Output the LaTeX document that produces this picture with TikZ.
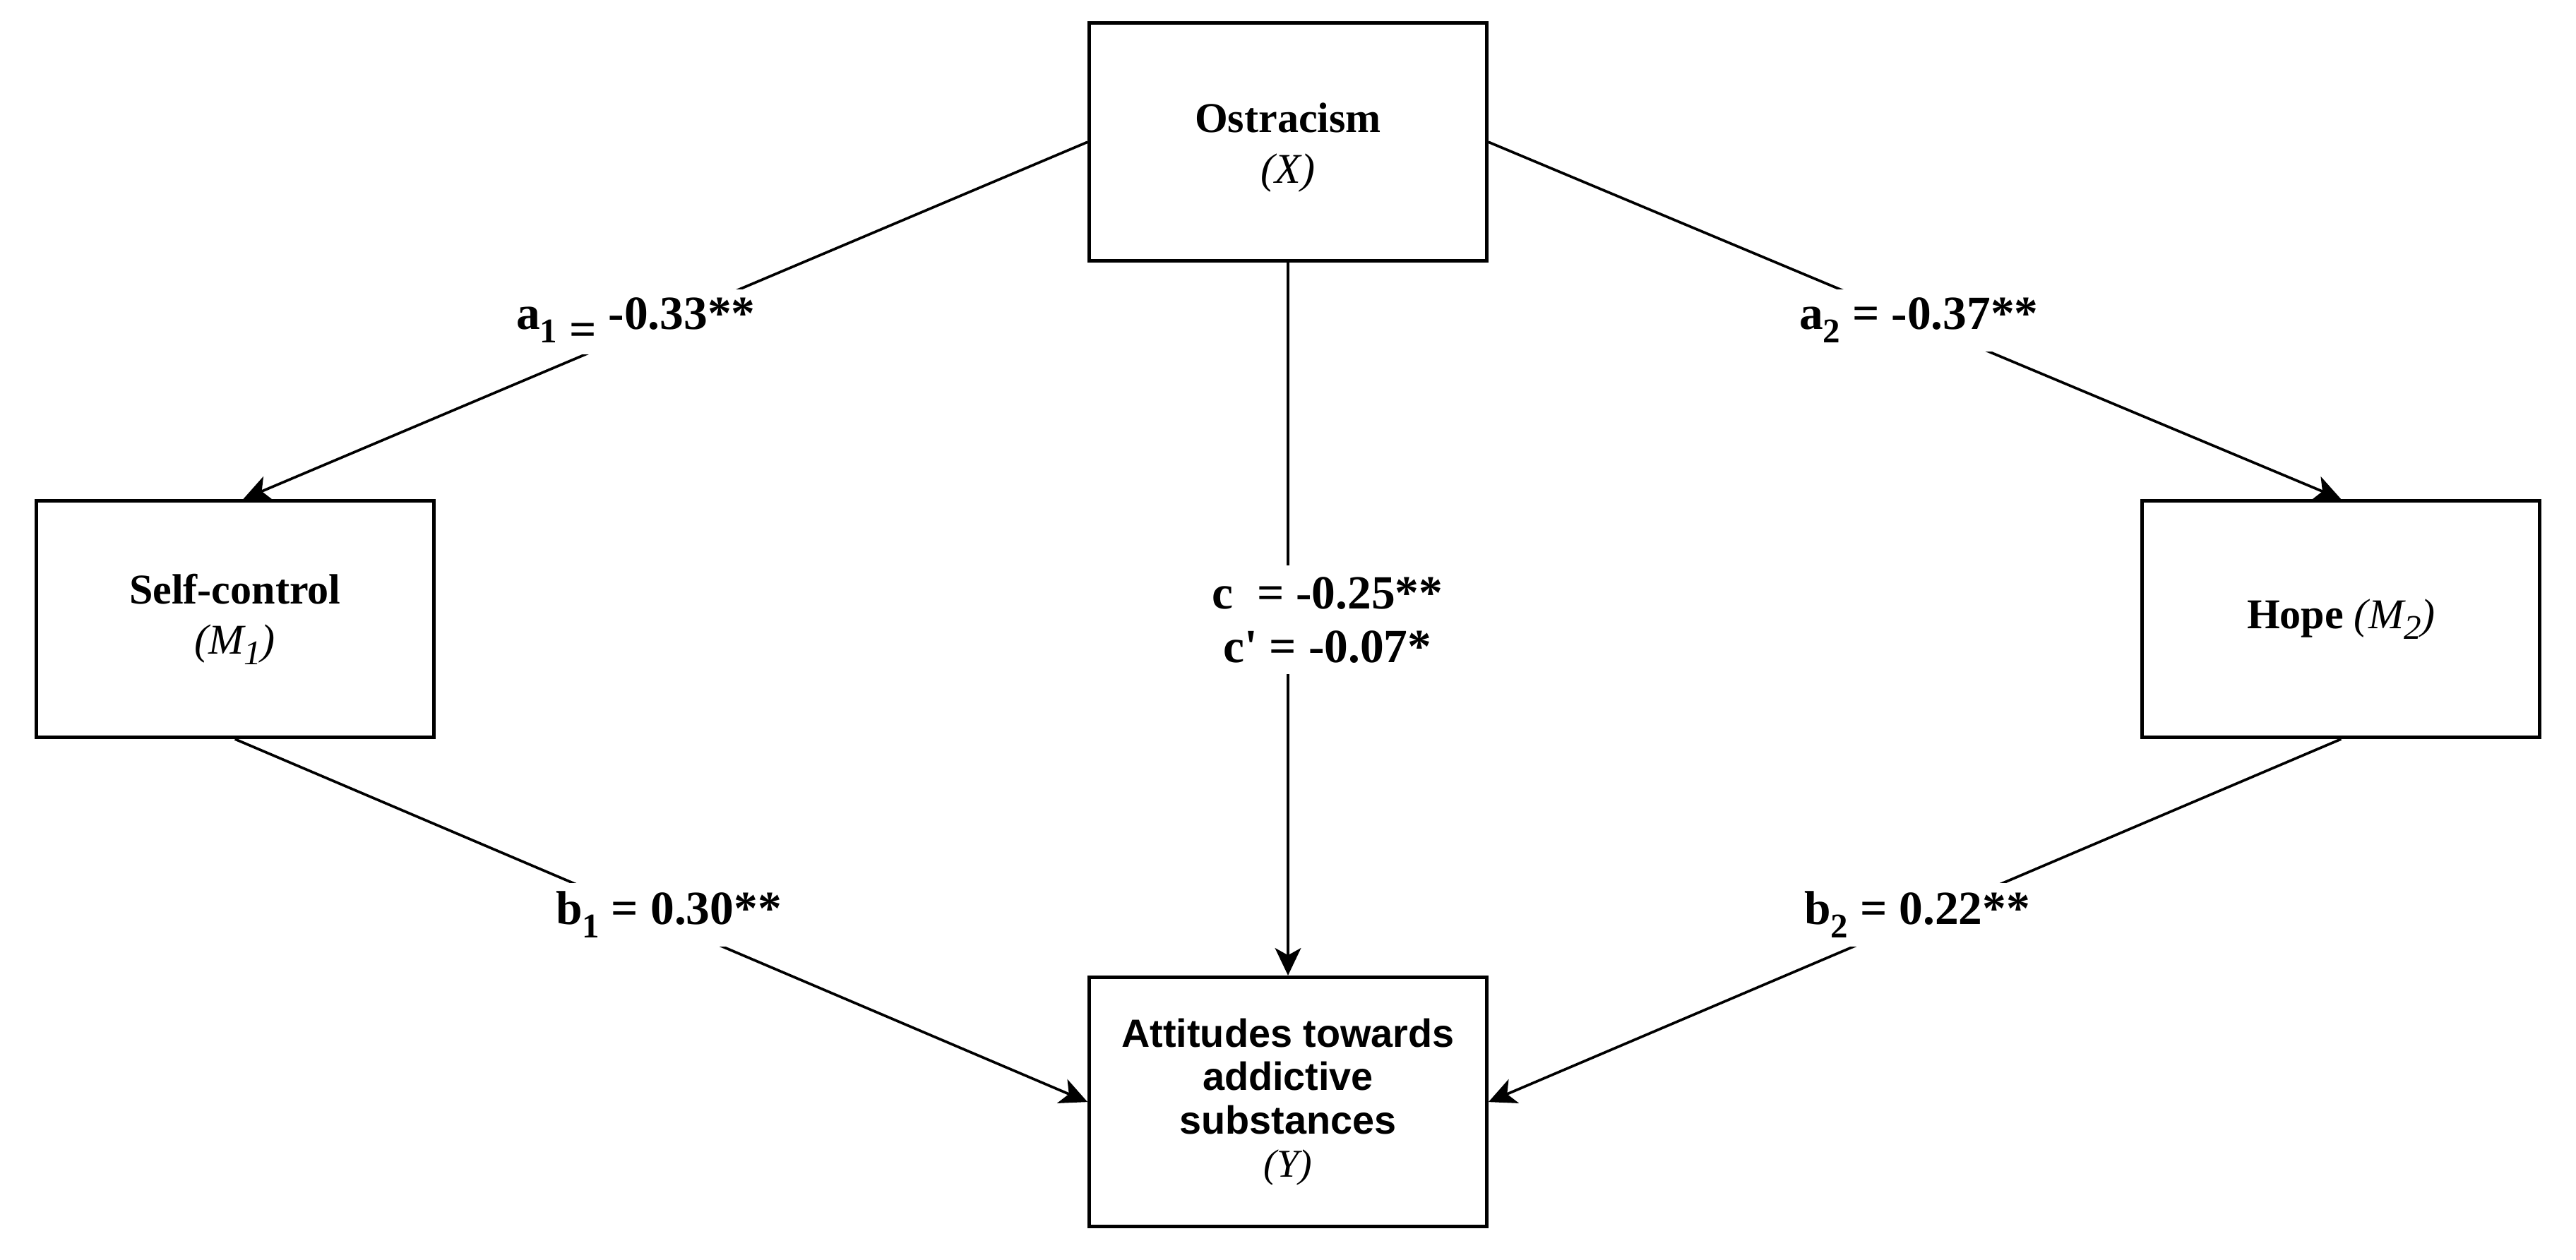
\documentclass[tikz,border=0pt]{standalone}
\usepackage{fontspec}
\setmainfont{Liberation Serif}
\newfontfamily\arialf{Liberation Sans}
\newfontfamily\tnrplain{Liberation Serif}[Ligatures=TeXOff]
\usetikzlibrary{arrows.meta,calc}
\newcommand\lsub[2][-4.5pt]{\raisebox{#1}{\fontsize{12}{12}\selectfont #2}}
\newcommand\isub[1]{\raisebox{-3.5pt}{\fontsize{12}{12}\selectfont #1}}
\begin{document}
\begin{tikzpicture}[x=0.02cm,y=-0.02cm,
  box/.style={draw=black, line width=1.2pt, minimum width=4.84cm, minimum height=2.9cm, inner sep=0pt, align=center, font=\fontsize{14.7}{17.5}\selectfont\bfseries},
  conn/.style={line width=0.9pt, -{Stealth[length=9.5pt,width=9pt,inset=2.5pt]}},
  lbl/.style={fill=white, inner sep=3pt, font=\fontsize{16.5}{18.5}\selectfont\bfseries, align=center}]
\useasboundingbox (0,0) rectangle (1568,767);
\fill[white] (0,0) rectangle (1568,767);

\node[box] (X) at (784,86.5) {\rule{0pt}{14pt}Ostracism\\{\mdseries\itshape (X)}};
\node[box, minimum height=2.88cm] (M1) at (143,377) {Self-control\\{\mdseries\itshape (M\isub{1})}};
\node[box, minimum height=2.88cm] (M2) at (1425,377) {Hope {\mdseries\itshape (M\isub{2})}};
\node[box, minimum height=3.04cm, font=\fontsize{13.65}{15}\selectfont\arialf\bfseries] (Y) at (784,671) {Attitudes towards\\addictive\\substances\\{\rmfamily\mdseries\itshape (Y)}};

\draw[conn] (X.west) -- ([xshift=0.1cm]M1.north);
\draw[conn] (X.east) -- (M2.north);
\draw[conn] (X.south) -- (Y.north);
\draw[conn] (M1.south) -- (Y.west);
\draw[conn] (M2.south) -- (Y.east);

\node[lbl, anchor=base] (la1) at (387,200.7) {a\lsub{1} \raisebox{-5.5pt}{=} -0.33**};
\node[lbl, anchor=base] (la2) at (1168,200.7) {a\lsub{2} = -0.37**};
\node[lbl, anchor=base] (lb1) at (407,563) {b\lsub{1} = 0.30**};
\node[lbl, anchor=base] (lb2) at (1167,563) {b\lsub{2} = 0.22**};
\node[lbl, inner sep=4pt] (lc) at (808,377.5) {c\ \ = -0.25**\\c{\tnrplain\bfseries '} = -0.07*};
\end{tikzpicture}
\end{document}
